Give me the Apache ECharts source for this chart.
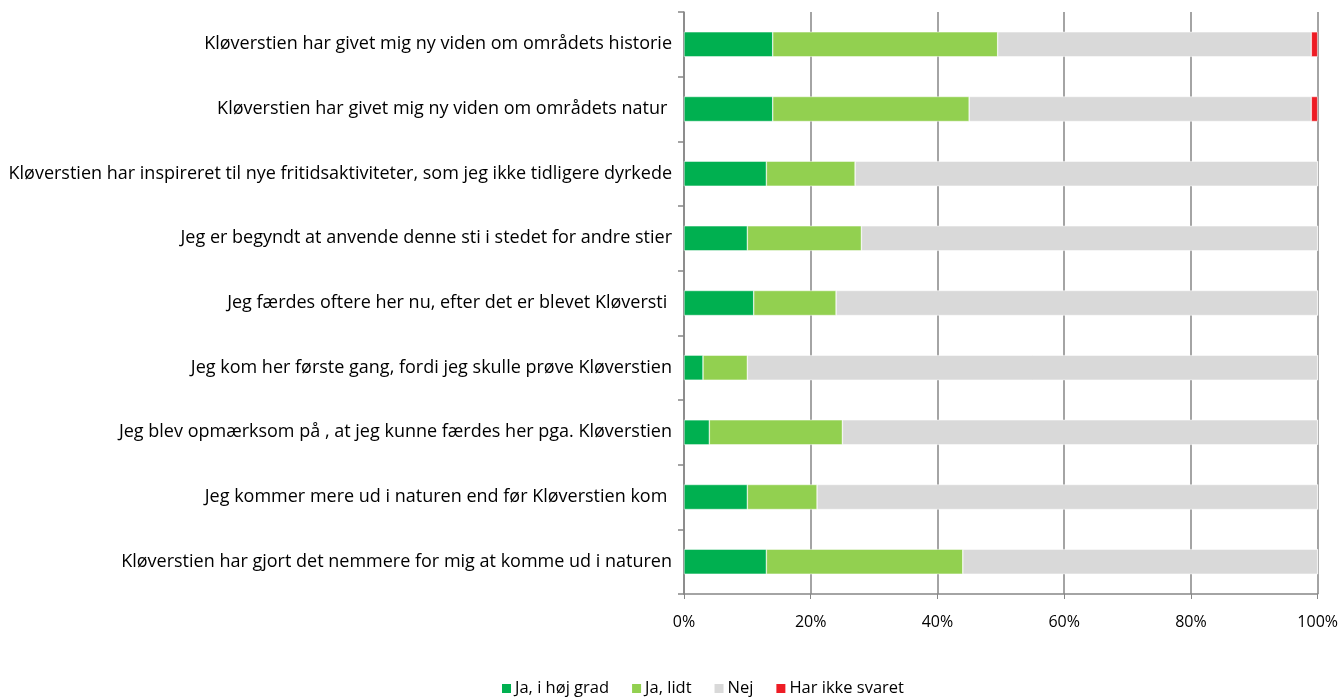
<!DOCTYPE html>
<html>
<head>
<meta charset="utf-8">
<script src="https://cdn.jsdelivr.net/npm/echarts@6/dist/echarts.min.js"></script>
<style>html,body{margin:0;padding:0;background:#fff;}#c{width:1341px;height:699px;}</style>
</head>
<body>
<div id="c"></div>
<script>
const categories = [
  "Kløverstien har givet mig ny viden om områdets historie",
  "Kløverstien har givet mig ny viden om områdets natur ",
  "Kløverstien har inspireret til nye fritidsaktiviteter, som jeg ikke tidligere dyrkede",
  "Jeg er begyndt at anvende denne sti i stedet for andre stier",
  "Jeg færdes oftere her nu, efter det er blevet Kløversti ",
  "Jeg kom her første gang, fordi jeg skulle prøve Kløverstien",
  "Jeg blev opmærksom på , at jeg kunne færdes her pga. Kløverstien",
  "Jeg kommer mere ud i naturen end før Kløverstien kom ",
  "Kløverstien har gjort det nemmere for mig at komme ud i naturen"
];
const seriesNames = ["Ja, i høj grad", "Ja, lidt", "Nej", "Har ikke svaret"];
const jaHoejGrad = [14, 14, 13, 10, 11, 3, 4, 10, 13];
const jaLidt = [35.5, 31, 14, 18, 13, 7, 21, 11, 31];
const nej = [49.5, 54, 73, 72, 76, 90, 75, 79, 56];
const harIkkeSvaret = [1, 1, 0, 0, 0, 0, 0, 0, 0];
const xTicks = [0, 20, 40, 60, 80, 100];

const colors = ["#00B050", "#92D050", "#D9D9D9", "#EE1C25"];
const font = "Open Sans";
const chart = echarts.init(document.getElementById('c'));
const values = [jaHoejGrad, jaLidt, nej, harIkkeSvaret];
chart.setOption({
  animation: false,
  textStyle: { fontFamily: font },
  grid: { left: 684, right: 23, top: 12, bottom: 105, containLabel: false },
  legend: {
    bottom: 1, left: 500, padding: 0,
    itemWidth: 11, itemHeight: 11, itemGap: 21,
    icon: 'rect',
    textStyle: { fontFamily: font, fontSize: 16.5, lineHeight: 19, color: '#000', padding: [0, 0, 0, -2] },
    data: seriesNames
  },
  xAxis: {
    type: 'value', min: xTicks[0], max: xTicks[xTicks.length - 1], interval: 20,
    axisLine: { show: true, lineStyle: { color: '#868686', width: 1.5 } },
    axisTick: { show: true, length: 5, lineStyle: { color: '#868686' } },
    splitLine: { show: true, lineStyle: { color: '#868686', width: 1.5 } },
    axisLabel: { formatter: '{value}%', color: '#000', fontSize: 16, margin: 20, fontFamily: font }
  },
  yAxis: {
    type: 'category', data: categories, inverse: true,
    axisLine: { show: true, lineStyle: { color: '#868686', width: 1.5 } },
    axisTick: { show: true, length: 6, lineStyle: { color: '#868686', width: 1.5 } },
    axisLabel: { color: '#000', fontSize: 18, margin: 12, fontFamily: font }
  },
  series: seriesNames.map((n, i) => ({
    name: n, type: 'bar', stack: 'total', data: values[i], barWidth: 25,
    itemStyle: { color: colors[i], borderColor: '#fff', borderWidth: 0.5 },
    emphasis: { disabled: true }
  }))
});
</script>
</body>
</html>
